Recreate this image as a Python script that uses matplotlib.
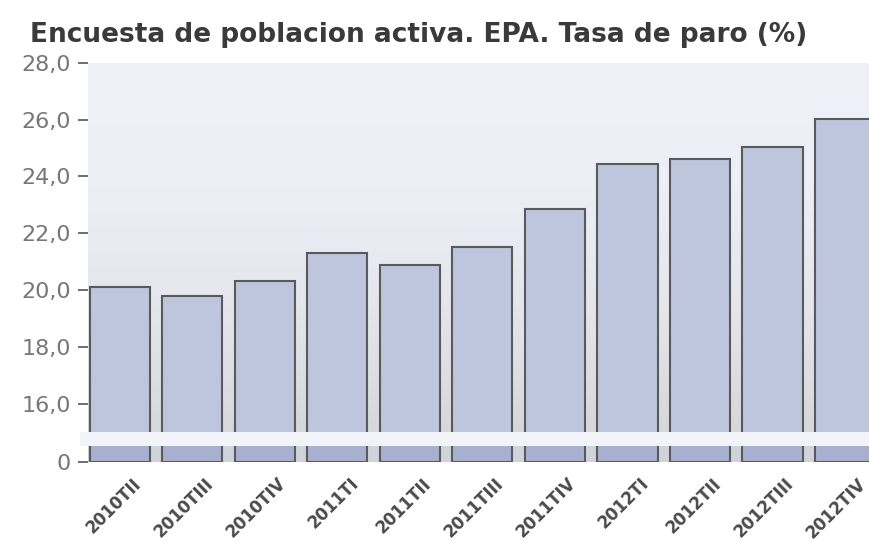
import matplotlib.pyplot as plt
import numpy as np
from matplotlib.colors import LinearSegmentedColormap
from matplotlib.patches import Rectangle
import matplotlib.transforms as mtransforms

plt.rcParams['font.family'] = ['DejaVu Sans']

# datos EPA (tasa de paro, %)
quarters = ["2010TII", "2010TIII", "2010TIV", "2011TI", "2011TII", "2011TIII",
            "2011TIV", "2012TI", "2012TII", "2012TIII", "2012TIV"]
paro = [20.09, 19.79, 20.33, 21.29, 20.89, 21.52, 22.85, 24.44, 24.63, 25.02, 26.02]
yticks_top = [16, 18, 20, 22, 24, 26, 28]

x = np.arange(len(quarters))
xlim = (-0.44, 10.33)

fig = plt.figure(figsize=(8.69, 5.42), dpi=100)
ax = fig.add_axes([0.101, 0.203, 0.899, 0.681])
axb = fig.add_axes([0.101, 0.1476, 0.899, 0.0295])

# franja del corte del eje
fig.patches.append(Rectangle((0.092, 0.177), 0.908, 0.026, transform=fig.transFigure,
                             facecolor='#f3f3fa', edgecolor='none', zorder=0))

# fondo degradado
bg = LinearSegmentedColormap.from_list('bg', ['#eff1f9', '#edeff7', '#e4e6ec', '#d6d8dc'])
ax.imshow(np.linspace(0, 1, 256).reshape(-1, 1), cmap=bg, aspect='auto',
          extent=[xlim[0], xlim[1], 15, 28], zorder=0)
axb.set_facecolor('#d0d4da')

ax.bar(x, paro, width=0.83, color='#bdc6dc', edgecolor='#5a5a5a', linewidth=1.5, zorder=2)
axb.bar(x, paro, width=0.83, color='#a7b1cf', edgecolor='#5a5a5a', linewidth=1.5, zorder=2)

ax.set_xlim(*xlim)
ax.set_ylim(15, 28)
axb.set_xlim(*xlim)
axb.set_ylim(0, 1)

for a in (ax, axb):
    for s in a.spines.values():
        s.set_visible(False)

ax.set_yticks(yticks_top)
ax.set_yticklabels([f"{v:.1f}".replace('.', ',') for v in yticks_top])
ax.tick_params(axis='y', length=7, width=1.2, color='#555555', pad=5,
               labelsize=16, labelcolor='#777777')
ax.set_xticks([])

axb.set_yticks([0])
axb.set_yticklabels(["0"])
axb.tick_params(axis='y', length=7, width=1.2, color='#555555', pad=5,
                labelsize=16, labelcolor='#777777')
axb.set_xticks(x)
axb.set_xticklabels(quarters, rotation=45, ha='right', rotation_mode='anchor',
                    fontsize=12, fontweight='bold', color='#4a4a4a')
axb.tick_params(axis='x', direction='in', length=5, width=1.5, color='#333a50', pad=9)
offset = mtransforms.ScaledTranslation(12 / 100, 0, fig.dpi_scale_trans)
for lab in axb.get_xticklabels():
    lab.set_transform(lab.get_transform() + offset)

fig.text(0.034, 0.935, "Encuesta de poblacion activa. EPA. Tasa de paro (%)",
         fontsize=19, fontweight='bold', color='#3a3a3a', va='center', ha='left')

fig.savefig("out.png", dpi=100)
